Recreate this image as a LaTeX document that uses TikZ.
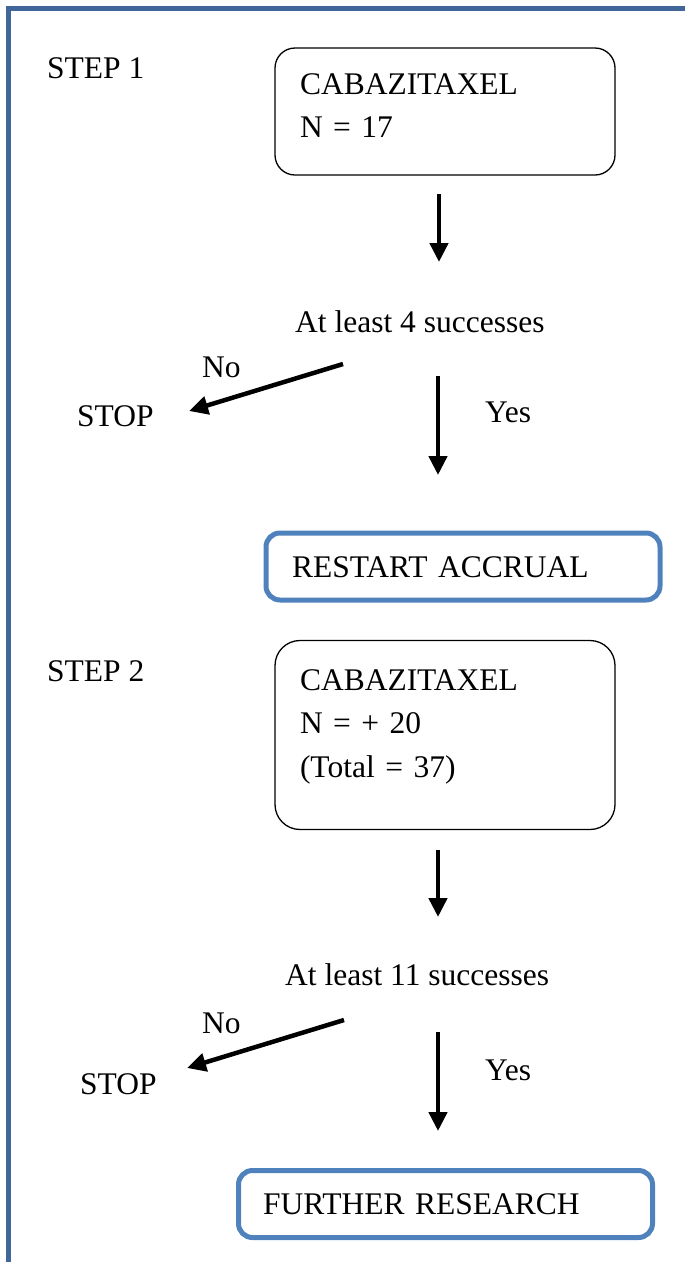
\documentclass[tikz,border=0pt]{standalone}
\usepackage{fontspec}
\setmainfont{Liberation Serif}
\usetikzlibrary{arrows.meta}
\definecolor{Frame}{HTML}{41679A}
\definecolor{Blue}{HTML}{4F81BD}
\tikzset{drug/.style={rounded corners=20pt,draw=black,line width=1.3pt,align=left,inner xsep=25pt,inner ysep=0pt,minimum width=340pt,text width=290pt,text height=21pt},goal/.style={rounded corners=14pt,draw=Blue,line width=5pt,align=left,inner ysep=0pt,text height=21pt,text depth=0pt,minimum height=67pt},label/.style={anchor=base west,inner sep=0pt},flow/.style={-{Triangle[width=18pt,length=19pt]},line width=4.5pt}}
\begin{document}
\begin{tikzpicture}[x=1pt,y=-1pt,font=\fontsize{31.5}{43.5}\selectfont]
      \useasboundingbox (0,0) rectangle (685,1262);
      \draw[Frame,line width=5pt](8,1262)--(8,8)--(685,8);
      \node[label](step1) at (47,78){STEP 1};
      \node[drug,text depth=56pt,minimum height=127pt](dose1) at (445,111.5){CABAZITAXEL\\N = 17};
      \node[label](test1) at (295,332){At least 4 successes};
      \node[label](no1) at (202,377){No};
      \node[label](stop1) at (77,426){STOP};
      \node[label](yes1) at (485,422){Yes};
      \node[goal,inner xsep=26pt,text width=342pt](restart) at (463,566.5){RESTART ACCRUAL};
      \node[label](step2) at (47,681){STEP 2};
      \node[drug,rounded corners=25pt,text depth=111pt,minimum height=189pt](dose2) at (445,735){CABAZITAXEL\\N = + 20\\(Total = 37)};
      \node[label](test2) at (285,985){At least 11 successes};
      \node[label](no2) at (202,1033){No};
      \node[label](stop2) at (80,1094){STOP};
      \node[label](yes2) at (485,1080){Yes};
      \node[goal,inner xsep=24.5pt,text width=365pt](further) at (445.5,1204){FURTHER RESEARCH};
      \coordinate (d1a) at (439,194);\coordinate (d1b) at (439,262);
      \coordinate (y1a) at (438,376);\coordinate (y1b) at (438,475);
      \coordinate (n1a) at (343,364);\coordinate (n1b) at (189,411);
      \coordinate (d2a) at (438,850);\coordinate (d2b) at (438,917);
      \coordinate (y2a) at (438,1032);\coordinate (y2b) at (438,1131);
      \coordinate (n2a) at (344,1020);\coordinate (n2b) at (187,1068);
      \draw[flow](d1a)--(d1b);\draw[flow](y1a)--(y1b);\draw[flow](n1a)--(n1b);
      \draw[flow](d2a)--(d2b);\draw[flow](y2a)--(y2b);\draw[flow](n2a)--(n2b);
    \end{tikzpicture}
\end{document}
